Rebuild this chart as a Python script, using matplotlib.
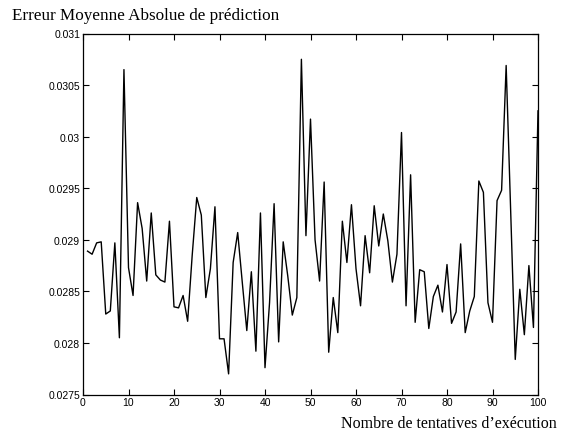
import matplotlib
matplotlib.use('Agg')
import matplotlib.pyplot as plt
from matplotlib.ticker import FuncFormatter

tentatives = list(range(1, 101))
erreur = [0.02889, 0.02886, 0.02897, 0.02898, 0.02828, 0.02831, 0.02897, 0.02805, 0.03065, 0.02873,
          0.02846, 0.02936, 0.02911, 0.02860, 0.02926, 0.02866, 0.02861, 0.02859, 0.02918, 0.02835,
          0.02834, 0.02846, 0.02821, 0.02885, 0.02941, 0.02924, 0.02844, 0.02872, 0.02932, 0.02804,
          0.02804, 0.02770, 0.02878, 0.02907, 0.02859, 0.02812, 0.02869, 0.02792, 0.02926, 0.02776,
          0.02839, 0.02935, 0.02801, 0.02898, 0.02865, 0.02827, 0.02844, 0.03075, 0.02904, 0.03017,
          0.02900, 0.02860, 0.02956, 0.02791, 0.02844, 0.02810, 0.02918, 0.02878, 0.02934, 0.02872,
          0.02836, 0.02904, 0.02868, 0.02933, 0.02894, 0.02925, 0.02899, 0.02859, 0.02886, 0.03004,
          0.02836, 0.02963, 0.02820, 0.02871, 0.02869, 0.02814, 0.02845, 0.02856, 0.02830, 0.02876,
          0.02819, 0.02830, 0.02896, 0.02810, 0.02831, 0.02845, 0.02957, 0.02946, 0.02839, 0.02820,
          0.02938, 0.02948, 0.03069, 0.02927, 0.02784, 0.02852, 0.02808, 0.02875, 0.02815, 0.03025]

xticks = [0, 10, 20, 30, 40, 50, 60, 70, 80, 90, 100]
yticks = [0.0275, 0.028, 0.0285, 0.029, 0.0295, 0.03, 0.0305, 0.031]

fig = plt.figure(figsize=(5.7, 4.35), dpi=100)
ax = fig.add_axes([83/570, 1 - 395.5/435, (538 - 83)/570, (395.5 - 34.5)/435])
ax.plot(tentatives, erreur, color='black', linewidth=1.0)
ax.set_xlim(0, 100)
ax.set_ylim(0.0275, 0.031)
ax.set_xticks(xticks)
ax.set_yticks(yticks)
ax.yaxis.set_major_formatter(FuncFormatter(lambda v, p: '%g' % v))
ax.tick_params(direction='in', top=True, right=True, length=4, width=0.8, pad=2,
               labelsize=7.5, labelfontfamily='Liberation Sans')
for s in ax.spines.values():
    s.set_linewidth(0.9)

fig.text(12/570, 1 - 16/435, "Erreur Moyenne Absolue de prédiction", family='Liberation Serif',
         fontsize=12.3, ha='left', va='center')
fig.text(557/570, 1 - 424/435, "Nombre de tentatives d\u2019exécution", family='Liberation Serif',
         fontsize=11.5, ha='right', va='center')

plt.savefig('out.png', dpi=100)
